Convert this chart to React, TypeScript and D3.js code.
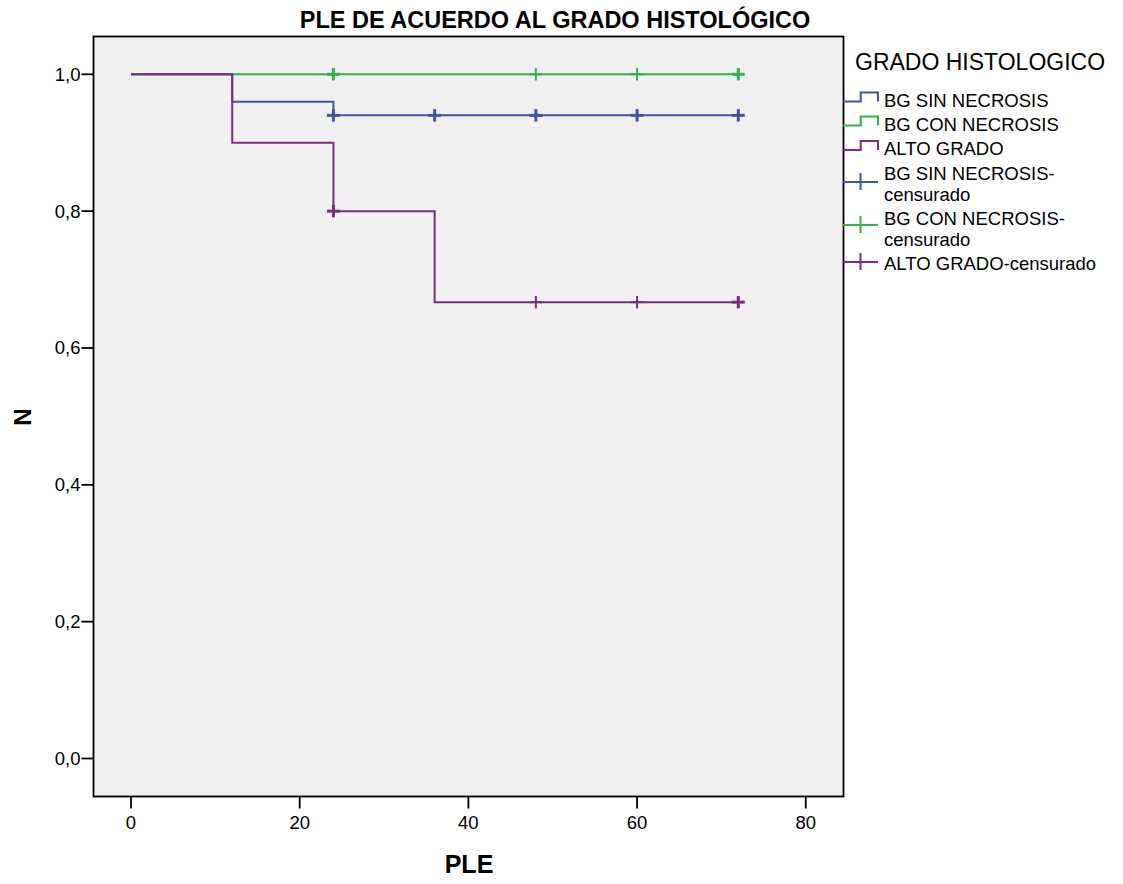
import React from "react";
import * as d3 from "d3";

const title = "PLE DE ACUERDO AL GRADO HISTOLÓGICO";
const xLabel = "PLE";
const yLabel = "N";
const legendTitle = "GRADO HISTOLOGICO";

const xTicks = [0, 20, 40, 60, 80];
const yTicks = [0, 0.2, 0.4, 0.6, 0.8, 1.0];

const seriesNames = ["BG SIN NECROSIS", "BG CON NECROSIS", "ALTO GRADO"];
const seriesColors = ["#3D55A8", "#2DB34A", "#7D2B80"];

// step curves: event times and survival after each
const blueTimes = [0, 12, 24, 72];
const blueSurv = [1.0, 0.96, 0.94, 0.94];
const greenTimes = [0, 72];
const greenSurv = [1.0, 1.0];
const purpleTimes = [0, 12, 24, 36, 72];
const purpleSurv = [1.0, 0.9, 0.8, 0.667, 0.667];

// censored marks
const blueCensor = [24, 36, 48, 60, 72];
const blueCensorN = [2, 2, 2, 2, 2];
const greenCensor = [24, 48, 60, 72];
const greenCensorN = [2, 1, 1, 2];
const purpleCensor = [24, 48, 60, 72];
const purpleCensorN = [2, 1, 1, 2];

const FONT = "'Liberation Sans', Arial, Helvetica, sans-serif";

export default function App() {
  const W = 1123, H = 884;
  const frame = { x0: 93.5, y0: 36.5, x1: 843.5, y1: 796.5 };
  const x = d3.scaleLinear().domain([0, 80]).range([131, 805.75]);
  const y = d3.scaleLinear().domain([0, 1]).range([758.5, 74.3]);

  const line = d3
    .line<[number, number]>()
    .x((d) => x(d[0]))
    .y((d) => y(d[1]))
    .curve(d3.curveStepAfter);

  const series = [
    { times: blueTimes, surv: blueSurv, cens: blueCensor, censN: blueCensorN, color: seriesColors[0] },
    { times: greenTimes, surv: greenSurv, cens: greenCensor, censN: greenCensorN, color: seriesColors[1] },
    { times: purpleTimes, surv: purpleSurv, cens: purpleCensor, censN: purpleCensorN, color: seriesColors[2] },
  ];

  const survAt = (times: number[], surv: number[], t: number) => {
    let v = surv[0];
    for (let i = 0; i < times.length; i++) if (times[i] <= t) v = surv[i];
    return v;
  };

  const legendRows = [
    { type: "step", color: seriesColors[0], lines: [seriesNames[0]], sy: 106.5, base: 106.5 },
    { type: "step", color: seriesColors[1], lines: [seriesNames[1]], sy: 130.5, base: 130.5 },
    { type: "step", color: seriesColors[2], lines: [seriesNames[2]], sy: 155, base: 155 },
    { type: "cross", color: seriesColors[0], lines: [seriesNames[0] + "-", "censurado"], sy: 182, base: 180 },
    { type: "cross", color: seriesColors[1], lines: [seriesNames[1] + "-", "censurado"], sy: 225, base: 225 },
    { type: "cross", color: seriesColors[2], lines: [seriesNames[2] + "-censurado"], sy: 262, base: 270 },
  ];

  return (
    <svg width={W} height={H} style={{ position: "absolute", left: 0, top: 0 }} fontFamily={FONT}>
      <rect x={0} y={0} width={W} height={H} fill="#ffffff" />
      <text x={555} y={28} textAnchor="middle" fontSize={23.5} fontWeight="bold" fill="#000">
        {title}
      </text>
      <rect
        x={frame.x0}
        y={frame.y0}
        width={frame.x1 - frame.x0}
        height={frame.y1 - frame.y0}
        fill="#F0F0F0"
        stroke="#000"
        strokeWidth={1.8}
      />
      {yTicks.map((t) => (
        <g key={"y" + t}>
          <line x1={frame.x0 - 12} x2={frame.x0} y1={y(t)} y2={y(t)} stroke="#000" strokeWidth={1.8} />
          <text x={frame.x0 - 13} y={y(t) + 6.5} textAnchor="end" fontSize={18.5} fill="#000">
            {t.toFixed(1).replace(".", ",")}
          </text>
        </g>
      ))}
      {xTicks.map((t) => (
        <g key={"x" + t}>
          <line x1={x(t)} x2={x(t)} y1={frame.y1} y2={frame.y1 + 12} stroke="#000" strokeWidth={1.8} />
          <text x={x(t)} y={829} textAnchor="middle" fontSize={18.5} fill="#000">
            {t}
          </text>
        </g>
      ))}
      <text x={469} y={873} textAnchor="middle" fontSize={25} fontWeight="bold" fill="#000">
        {xLabel}
      </text>
      <text
        transform={`translate(31,417) rotate(-90)`}
        textAnchor="middle"
        fontSize={24}
        fontWeight="bold"
        fill="#000"
      >
        {yLabel}
      </text>
      {series.map((s, i) => (
        <g key={"s" + i}>
          <path
            d={line(s.times.map((t, j) => [t, s.surv[j]] as [number, number])) || ""}
            fill="none"
            stroke={s.color}
            strokeWidth={2}
          />
          {s.cens.map((t, j) => {
            const cx = x(t);
            const cy = y(survAt(s.times, s.surv, t));
            const w = s.censN[j] > 1 ? 3 : 2;
            return (
              <g key={"c" + j} stroke={s.color} strokeWidth={w}>
                <line x1={cx - 6.5} x2={cx + 6.5} y1={cy} y2={cy} />
                <line x1={cx} x2={cx} y1={cy - 6.2} y2={cy + 6.2} />
              </g>
            );
          })}
        </g>
      ))}
      <text x={855} y={70} fontSize={23} fill="#000">
        {legendTitle}
      </text>
      {legendRows.map((r, i) => (
        <g key={"l" + i}>
          {r.type === "step" ? (
            <path
              d={`M843,${r.sy - 5} H860.7 V${r.sy - 14} H878 V${r.sy - 5}`}
              fill="none"
              stroke={r.color}
              strokeWidth={2}
            />
          ) : (
            <g stroke={r.color} strokeWidth={2}>
              <line x1={843} x2={878} y1={r.sy} y2={r.sy} />
              <line x1={860.5} x2={860.5} y1={r.sy - 9} y2={r.sy + 8} />
            </g>
          )}
          {r.lines.map((ln, k) => (
            <text key={k} x={884} y={r.base + k * 21} fontSize={18.5} fill="#000">
              {ln}
            </text>
          ))}
        </g>
      ))}
    </svg>
  );
}
